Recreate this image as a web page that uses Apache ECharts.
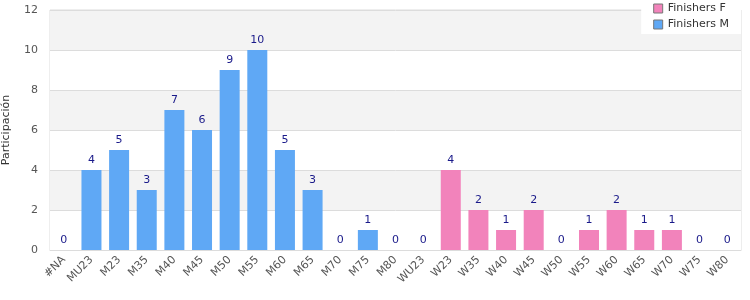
<!DOCTYPE html>
<html><head><meta charset="utf-8">
<script src="https://cdn.jsdelivr.net/npm/echarts@6/dist/echarts.min.js"></script>
<style>html,body{margin:0;padding:0;background:#fff}#c{width:750px;height:300px}</style>
</head><body><div id="c"></div>
<script>
const categories = ['#NA','MU23','M23','M35','M40','M45','M50','M55','M60','M65','M70','M75','M80','WU23','W23','W35','W40','W45','W50','W55','W60','W65','W70','W75','W80'];
const finishersM = [0,4,5,3,7,6,9,10,5,3,0,1,0,0,'-','-','-','-','-','-','-','-','-','-','-'];
const finishersF = ['-','-','-','-','-','-','-','-','-','-','-','-','-','-',4,2,1,2,0,1,2,1,1,0,0];
const yTicks = {min:0, max:12, interval:2};

const chart = echarts.init(document.getElementById('c'));
const lbl = {show:true, position:'top', color:'#1a1a8a', fontSize:11, fontFamily:'DejaVu Sans', distance:4};
chart.setOption({
  animation:false,
  textStyle:{fontFamily:'DejaVu Sans'},
  grid:{left:50, right:9, top:10, bottom:50, show:true, borderColor:'#dcdcdc', borderWidth:1, containLabel:false, outerBoundsMode:'none'},
  legend:{orient:'vertical', right:9, top:0, backgroundColor:'#fff', padding:[3,12,4,12], itemGap:5,
    icon:'rect', itemWidth:9, itemHeight:9, textStyle:{fontSize:11, color:'#333'},
    data:[{name:'Finishers F', itemStyle:{borderColor:'#777', borderWidth:1}}, {name:'Finishers M', itemStyle:{borderColor:'#777', borderWidth:1}}]},
  xAxis:{type:'category', data:categories,
    axisLine:{show:true, lineStyle:{color:'#dcdcdc'}}, axisTick:{show:false},
    axisLabel:{rotate:45, color:'#555', fontSize:11, interval:0, margin:8}},
  yAxis:{type:'value', min:yTicks.min, max:yTicks.max, interval:yTicks.interval,
    name:'Participación', nameLocation:'middle', nameGap:38, nameTextStyle:{color:'#333', fontSize:11},
    axisLine:{show:false}, axisTick:{show:false},
    axisLabel:{color:'#555', fontSize:11, margin:12},
    splitLine:{lineStyle:{color:'#dcdcdc'}},
    splitArea:{show:true, areaStyle:{color:['#ffffff','#f3f3f3']}}},
  series:[
    {name:'Finishers F', type:'bar', stack:'s', data:finishersF, barWidth:20, itemStyle:{color:'#f283bb'}, label:lbl},
    {name:'Finishers M', type:'bar', stack:'s', data:finishersM, barWidth:20, itemStyle:{color:'#5fa8f5'}, label:lbl}
  ]
});
</script></body></html>
